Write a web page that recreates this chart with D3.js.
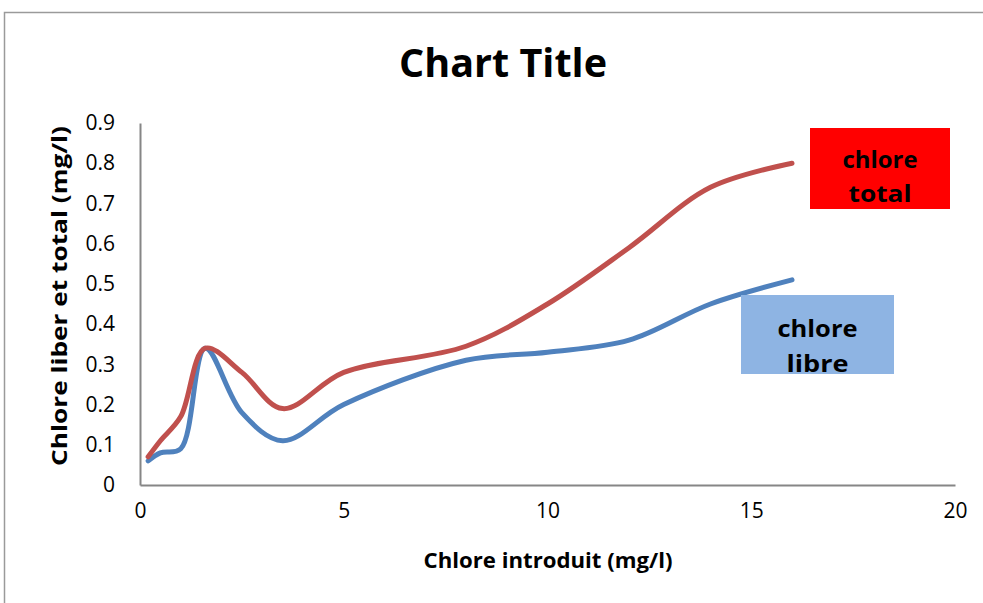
<!DOCTYPE html>
<html>
<head>
<meta charset="utf-8">
<script src="https://cdn.jsdelivr.net/npm/d3@7"></script>
<style>
  html, body { margin: 0; padding: 0; background: #fff; }
  svg { display: block; }
  text { font-family: "Open Sans", "DejaVu Sans", sans-serif; fill: #000; }
</style>
</head>
<body>
<svg id="chart" width="983" height="603"></svg>
<script>
// Chlorine dosage (mg/l) and measured residual chlorine
const chloreIntroduit = [0.2, 0.5, 1, 1.6, 2.5, 3.5, 5, 8, 10, 12, 14, 16];
const chloreLibre     = [0.06, 0.08, 0.09, 0.34, 0.18, 0.11, 0.20, 0.31, 0.33, 0.36, 0.45, 0.51];
const chloreTotal     = [0.07, 0.11, 0.17, 0.34, 0.28, 0.19, 0.28, 0.345, 0.45, 0.59, 0.74, 0.80];

const xTicks = [0, 5, 10, 15, 20];
const yTicks = [0, 0.1, 0.2, 0.3, 0.4, 0.5, 0.6, 0.7, 0.8, 0.9];

const seriesNames = ["chlore libre", "chlore total"];

const svg = d3.select("#chart");

// chart area frame
svg.append("rect")
  .attr("x", 4.5).attr("y", 12.5)
  .attr("width", 1000).attr("height", 700)
  .attr("fill", "none").attr("stroke", "#9a9a9a").attr("stroke-width", 1.5);

const x = d3.scaleLinear().domain([0, 20]).range([140, 955]);
const y = d3.scaleLinear().domain([0, 0.9]).range([485, 123]);

// axes (no tick marks, grey axis lines)
const xAxis = svg.append("g")
  .attr("transform", `translate(0,${y(0)})`)
  .call(d3.axisBottom(x).tickValues(xTicks).tickSize(0).tickPadding(26).tickFormat(d3.format("d")));
const yAxis = svg.append("g")
  .attr("transform", `translate(${x(0)},0)`)
  .call(d3.axisLeft(y).tickValues(yTicks).tickSize(0).tickPadding(25)
    .tickFormat(d => d === 0 ? "0" : d3.format(".1f")(d)));

[xAxis, yAxis].forEach(g => {
  g.select(".domain").attr("stroke", "#868686").attr("stroke-width", 2);
  g.selectAll("text")
    .style("font-family", "'Open Sans', sans-serif")
    .style("font-size", "21px")
    .attr("fill", "#000");
});
xAxis.selectAll("text").attr("dy", "0.35em");

// title
svg.append("text")
  .attr("x", 503).attr("y", 77)
  .attr("text-anchor", "middle")
  .style("font-size", "39px").style("font-weight", "bold")
  .attr("textLength", 208).attr("lengthAdjust", "spacingAndGlyphs")
  .text("Chart Title");

// axis titles
svg.append("text")
  .attr("x", 548).attr("y", 568)
  .attr("text-anchor", "middle")
  .style("font-size", "21px").style("font-weight", "bold")
  .attr("textLength", 249).attr("lengthAdjust", "spacingAndGlyphs")
  .text("Chlore introduit (mg/l)");

svg.append("text")
  .attr("transform", "translate(67,296) rotate(-90)")
  .attr("text-anchor", "middle")
  .style("font-size", "21px").style("font-weight", "bold")
  .attr("textLength", 340).attr("lengthAdjust", "spacingAndGlyphs")
  .text("Chlore liber et total (mg/l)");

// smoothed lines
const line = values => d3.line()
  .x((d, i) => x(chloreIntroduit[i]))
  .y(d => y(d))
  .curve(d3.curveCatmullRom.alpha(0.5))(values);

svg.append("path")
  .attr("d", line(chloreLibre))
  .attr("fill", "none").attr("stroke", "#4F81BD")
  .attr("stroke-width", 5).attr("stroke-linecap", "round").attr("stroke-linejoin", "round");

svg.append("path")
  .attr("d", line(chloreTotal))
  .attr("fill", "none").attr("stroke", "#C0504D")
  .attr("stroke-width", 5).attr("stroke-linecap", "round").attr("stroke-linejoin", "round");

// series label boxes
const labels = [
  { name: seriesNames[1], x0: 810, y0: 128, w: 140, h: 81, fill: "#FF0000", lines: ["chlore", "total"], widths: [75, 63], base: [168, 202] },
  { name: seriesNames[0], x0: 741, y0: 295, w: 153, h: 79, fill: "#8EB4E3", lines: ["chlore", "libre"], widths: [80, 62], base: [337, 372] }
];
labels.forEach(l => {
  const g = svg.append("g");
  g.append("rect")
    .attr("x", l.x0).attr("y", l.y0).attr("width", l.w).attr("height", l.h)
    .attr("fill", l.fill);
  l.lines.forEach((t, i) => {
    g.append("text")
      .attr("x", l.x0 + l.w / 2).attr("y", l.base[i])
      .attr("text-anchor", "middle")
      .style("font-size", "24px").style("font-weight", "bold")
      .attr("textLength", l.widths[i]).attr("lengthAdjust", "spacingAndGlyphs")
      .text(t);
  });
});
</script>
</body>
</html>
